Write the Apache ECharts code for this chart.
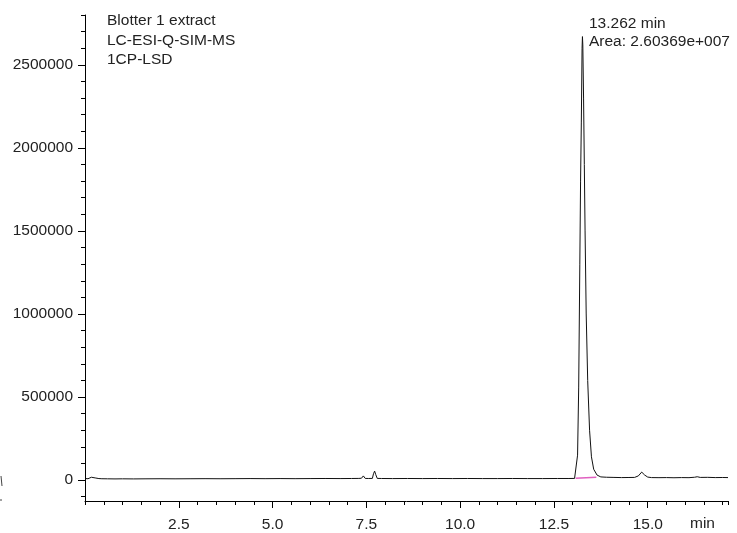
<!DOCTYPE html>
<html>
<head>
<meta charset="utf-8">
<script src="https://cdn.jsdelivr.net/npm/echarts@6/dist/echarts.min.js"></script>
<style>
html,body{margin:0;padding:0;background:#fff;}
#chart{width:737px;height:533px;}
</style>
</head>
<body>
<div id="chart"></div>
<script>
// Retention time (min)
const times = [
  0.02, 0.08, 0.12, 0.17, 0.22, 0.27, 0.32, 0.37, 0.45, 0.6, 0.8, 1.0, 1.3, 1.6, 2.0, 2.4, 2.8, 3.2, 3.6, 4.0,
  4.4, 4.8, 5.2, 5.6, 6.0, 6.4, 6.8, 7.1, 7.3, 7.37, 7.42, 7.47, 7.55, 7.66, 7.69, 7.72, 7.75, 7.79, 7.9, 8.2,
  8.6, 9.0, 9.4, 9.8, 10.2, 10.6, 11.0, 11.4, 11.8, 12.2, 12.6, 12.9, 13.05, 13.1, 13.13, 13.16, 13.19, 13.21, 13.23, 13.25,
  13.26, 13.27, 13.29, 13.31, 13.33, 13.36, 13.4, 13.45, 13.5, 13.56, 13.65, 13.75, 13.9, 14.1, 14.3, 14.5, 14.65, 14.75, 14.84, 14.92,
  15.0, 15.1, 15.3, 15.5, 15.7, 15.9, 16.1, 16.25, 16.32, 16.4, 16.6, 16.8, 17.0, 17.14
];
// Abundance (counts)
const abundance = [
  9000, 8000, 11000, 17000, 9000, 13000, 17000, 9000, 8000, 7500, 7000, 7500, 7000, 7500, 8000, 7500, 8000, 8500, 8000, 8500,
  9000, 8500, 9000, 8500, 9000, 9500, 9000, 9500, 10000, 11000, 25000, 10000, 9500, 10000, 38000, 54000, 33000, 10000, 9500, 9000,
  9500, 9000, 9500, 9000, 9500, 9000, 9000, 9500, 9000, 9000, 9500, 9500, 10000, 22000, 150000, 560000, 1300000, 1800000, 2150000, 2600000,
  2670000, 2620000, 2300000, 1900000, 1500000, 1000000, 600000, 300000, 140000, 65000, 30000, 19000, 17000, 16000, 15000, 15500, 16000, 25000, 48000, 30000,
  18000, 15000, 14500, 15000, 14000, 15000, 14500, 17000, 20000, 16000, 16500, 15000, 15500, 15000
];
// Integration baseline under the main peak
const baselineTimes = [13.08, 13.63];
const baselineValues = [11000, 17000];

// Axis ticks and labels
const xMajor = [2.5, 5.0, 7.5, 10.0, 12.5, 15.0];
const xMinor = [0, 0.5, 1.0, 1.5, 2.0, 3.0, 3.5, 4.0, 4.5, 5.5, 6.0, 6.5, 7.0, 8.0, 8.5, 9.0, 9.5, 10.5, 11.0, 11.5, 12.0, 13.0, 13.5, 14.0, 14.5, 15.5, 16.0, 16.5, 17.0, 17.14];
const yMajor = [0, 500000, 1000000, 1500000, 2000000, 2500000];
const yMinor = [-100000, 100000, 200000, 300000, 400000, 600000, 700000, 800000, 900000, 1100000, 1200000, 1300000, 1400000, 1600000, 1700000, 1800000, 1900000, 2100000, 2200000, 2300000, 2400000, 2600000, 2700000, 2800000];

const sampleLines = ['Blotter 1 extract', 'LC-ESI-Q-SIM-MS', '1CP-LSD'];
const peakLines = ['13.262 min', 'Area: 2.60369e+007'];

const X_MIN = 0, X_MAX = 17.14, Y_MIN = -126000, Y_MAX = 2800000;
const FONT = 'Liberation Sans, Arial, sans-serif';
const FS = 15.5;
const TXT = '#222';

const chart = echarts.init(document.getElementById('chart'), null, {renderer: 'canvas'});

function xAxisBase(extra) {
  return Object.assign({
    type: 'value', min: X_MIN, max: X_MAX, position: 'bottom', gridIndex: 0,
    splitLine: {show: false},
    axisLine: {show: true, lineStyle: {color: '#000', width: 1}}
  }, extra);
}
function yAxisBase(extra) {
  return Object.assign({
    type: 'value', min: Y_MIN, max: Y_MAX, position: 'left', gridIndex: 0,
    splitLine: {show: false},
    axisLine: {show: true, onZero: false, lineStyle: {color: '#000', width: 1}}
  }, extra);
}

const option = {
  animation: false,
  backgroundColor: '#fff',
  grid: {left: 85, right: 9, top: 15, bottom: 32, containLabel: false},
  xAxis: [
    xAxisBase({
      axisLine: {show: true, onZero: false, lineStyle: {color: '#000', width: 1}},
      axisTick: {show: true, length: 7, lineStyle: {color: '#000'}, customValues: xMajor},
      axisLabel: {show: true, customValues: xMajor, margin: 16, color: TXT, fontFamily: FONT, fontSize: FS,
        formatter: v => v.toFixed(1)}
    }),
    xAxisBase({
      axisLine: {show: false, onZero: false},
      axisTick: {show: true, length: 4, lineStyle: {color: '#000'}, customValues: xMinor},
      axisLabel: {show: false}
    })
  ],
  yAxis: [
    yAxisBase({
      axisTick: {show: true, length: 7, lineStyle: {color: '#000'}, customValues: yMajor},
      axisLabel: {show: true, customValues: yMajor, margin: 12, color: TXT, fontFamily: FONT, fontSize: FS,
        formatter: v => String(v)}
    }),
    yAxisBase({
      axisLine: {show: false},
      axisTick: {show: true, length: 4, lineStyle: {color: '#000'}, customValues: yMinor},
      axisLabel: {show: false}
    })
  ],
  series: [
    {
      type: 'line', xAxisIndex: 0, yAxisIndex: 0,
      data: times.map((t, i) => [t, abundance[i]]),
      showSymbol: false, symbol: 'none',
      lineStyle: {color: '#111', width: 1},
      z: 3
    },
    {
      type: 'line', xAxisIndex: 0, yAxisIndex: 0,
      data: baselineTimes.map((t, i) => [t, baselineValues[i]]),
      showSymbol: false, symbol: 'none',
      lineStyle: {color: '#e060c0', width: 1.5},
      z: 2
    }
  ],
  graphic: [
    {type: 'text', left: 107, top: 11, style: {text: sampleLines.join('\n'), fill: TXT, font: FS + 'px ' + FONT, lineHeight: 19.5}},
    {type: 'text', left: 589, top: 14, style: {text: peakLines.join('\n'), fill: TXT, font: FS + 'px ' + FONT, lineHeight: 18.5}},
    {type: 'text', left: 690, top: 516, style: {text: 'min', fill: TXT, font: FS + 'px ' + FONT}},
    {type: 'line', shape: {x1: 1, y1: 476, x2: 2, y2: 486}, style: {stroke: '#444', lineWidth: 1}},
    {type: 'line', shape: {x1: 0, y1: 500, x2: 2, y2: 500}, style: {stroke: '#444', lineWidth: 1}}
  ]
};
chart.setOption(option);
</script>
</body>
</html>
